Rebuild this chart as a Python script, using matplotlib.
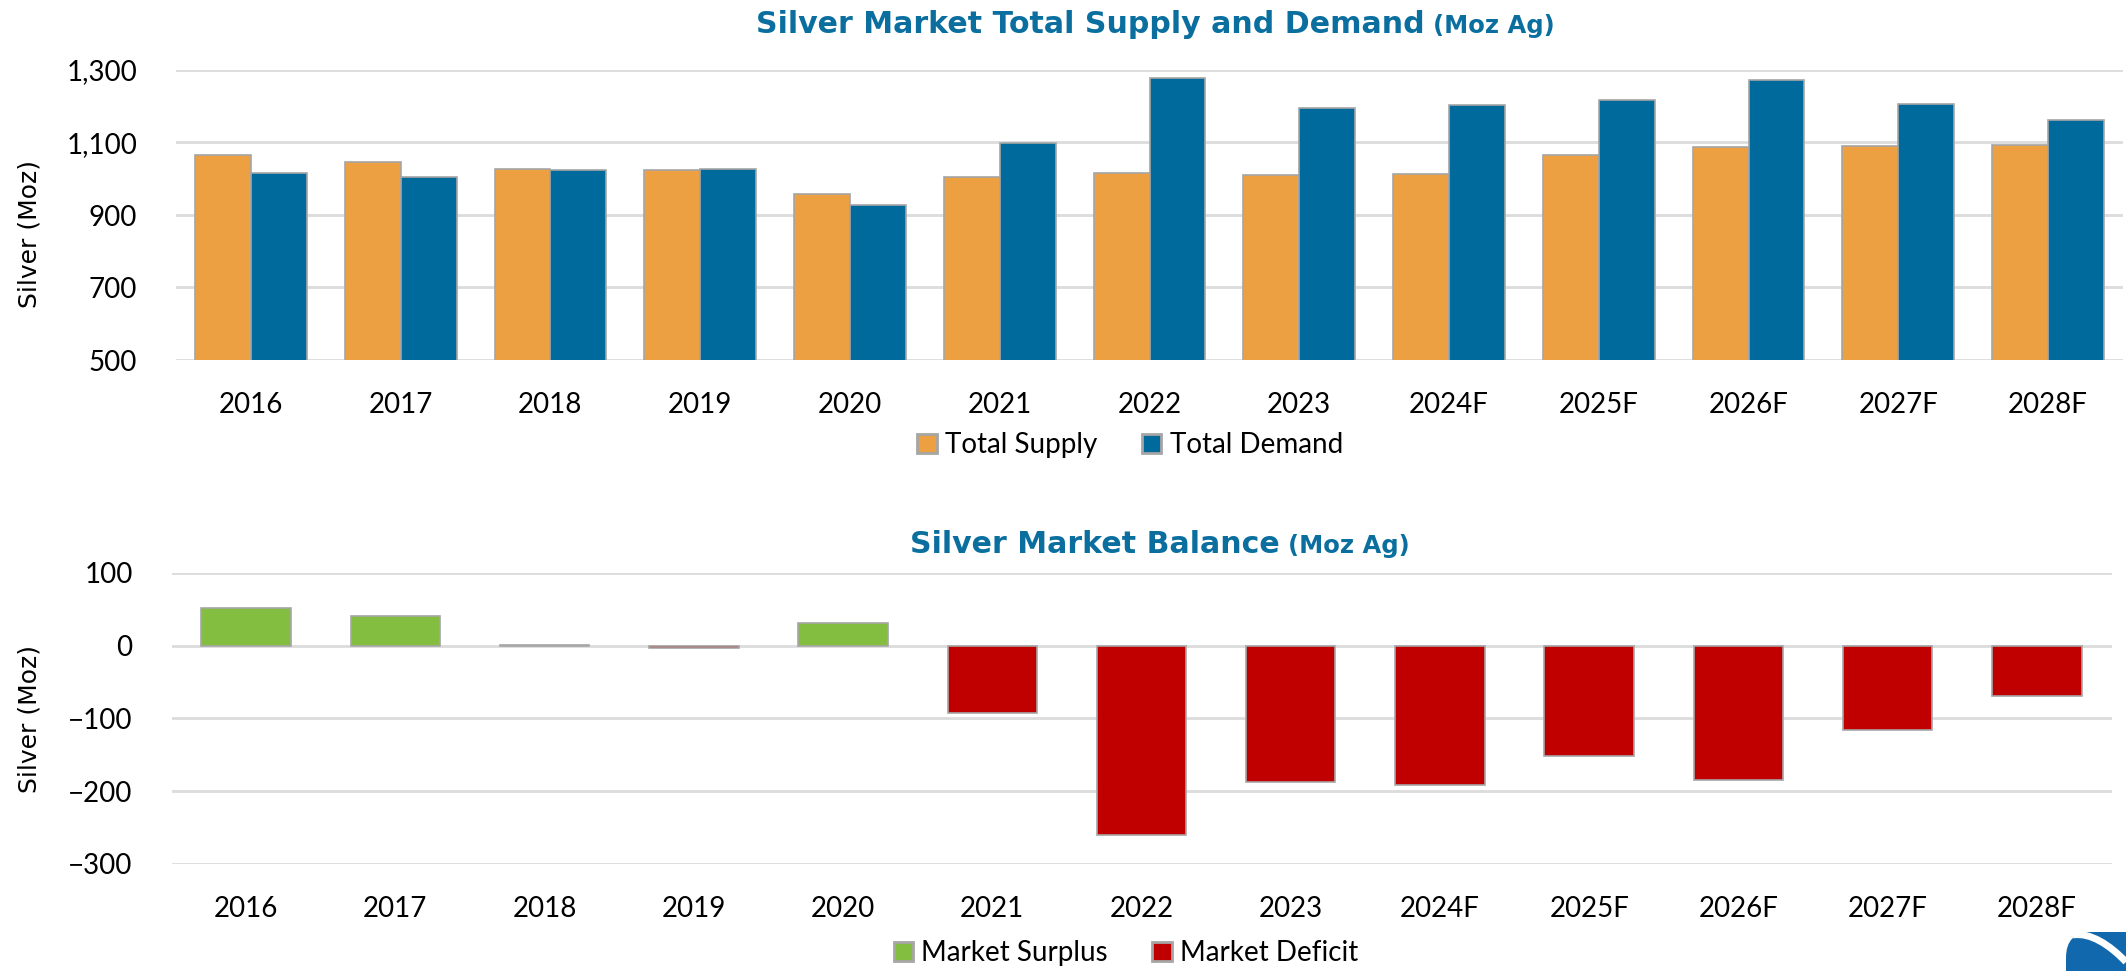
import numpy as np
import matplotlib
matplotlib.use("Agg")
import matplotlib.pyplot as plt
from matplotlib.patches import Patch, FancyBboxPatch
from matplotlib.path import Path
from matplotlib.patches import PathPatch

years = ["2016", "2017", "2018", "2019", "2020", "2021", "2022",
         "2023", "2024F", "2025F", "2026F", "2027F", "2028F"]
total_supply = [1065, 1046, 1026, 1024, 958, 1006, 1017, 1009, 1013, 1065, 1087, 1090, 1092]
total_demand = [1016, 1005, 1025, 1028, 927, 1098, 1279, 1195, 1203, 1218, 1272, 1205, 1161]
market_surplus = [51, 41, 1, np.nan, 31, np.nan, np.nan, np.nan, np.nan, np.nan, np.nan, np.nan, np.nan]
market_deficit = [np.nan, np.nan, np.nan, -4, np.nan, -93, -260, -187, -191, -152, -185, -116, -69]

ORANGE = "#EDA041"
BLUE = "#006A9C"
GREEN = "#84BE41"
RED = "#C00000"
EDGE = "#A6A6A6"
GRID = "#DCDCDC"
TITLE = "#0A6E9F"

W, H = 2126, 971
fig = plt.figure(figsize=(W / 100, H / 100), dpi=100)
tick_font = "Lato"


def style_axis(ax):
    for s in ax.spines.values():
        s.set_visible(False)
    ax.yaxis.grid(True, color=GRID, lw=2)
    ax.set_axisbelow(True)
    ax.tick_params(length=0, labelsize=20)
    ax.tick_params(axis="y", pad=28)
    ax.tick_params(axis="x", pad=23)
    for lab in ax.get_xticklabels() + ax.get_yticklabels():
        lab.set_fontfamily(tick_font)


x = np.arange(len(years))

# top chart: supply vs demand
ax1 = fig.add_axes([176 / W, 1 - 360 / H, 1947 / W, 290 / H])
bw = 0.373
ax1.bar(x - bw / 2, total_supply, bw, color=ORANGE, edgecolor=EDGE, lw=1.2, label="Total Supply")
ax1.bar(x + bw / 2, total_demand, bw, color=BLUE, edgecolor=EDGE, lw=1.2, label="Total Demand")
ax1.set_ylim(500, 1300)
ax1.set_xlim(-0.5, len(years) - 0.5)
ax1.set_yticks([500, 700, 900, 1100, 1300])
ax1.set_yticklabels(["500", "700", "900", "1,100", "1,300"])
ax1.set_xticks(x)
ax1.set_xticklabels(years)
style_axis(ax1)

# bottom chart: balance
ax2 = fig.add_axes([171.5 / W, 1 - 864 / H, 1940 / W, 291.3 / H])
ax2.bar(x, market_surplus, 0.6, color=GREEN, edgecolor=EDGE, lw=1.2, label="Market Surplus")
ax2.bar(x, market_deficit, 0.6, color=RED, edgecolor=EDGE, lw=1.2, label="Market Deficit")
ax2.set_ylim(-300, 100)
ax2.set_xlim(-0.5, len(years) - 0.5)
ax2.set_yticks([-300, -200, -100, 0, 100])
ax2.set_xticks(x)
ax2.set_xticklabels(years)
style_axis(ax2)

# titles
fig.text(1425 / W, 1 - 33 / H, "Silver Market Total Supply and Demand", ha="right", va="baseline",
         fontsize=21.6, fontweight="bold", color=TITLE, family="DejaVu Sans")
fig.text(1433 / W, 1 - 33 / H, "(Moz Ag)", ha="left", va="baseline",
         fontsize=17.5, fontweight="bold", color=TITLE, family="DejaVu Sans")
fig.text(1280 / W, 1 - 553 / H, "Silver Market Balance", ha="right", va="baseline",
         fontsize=21.6, fontweight="bold", color=TITLE, family="DejaVu Sans")
fig.text(1288 / W, 1 - 553 / H, "(Moz Ag)", ha="left", va="baseline",
         fontsize=17.5, fontweight="bold", color=TITLE, family="DejaVu Sans")

# y labels
fig.text(30 / W, 1 - 234 / H, "Silver (Moz)", rotation=90, ha="center", va="center",
         fontsize=18, family="DejaVu Sans")
fig.text(30 / W, 1 - 719 / H, "Silver (Moz)", rotation=90, ha="center", va="center",
         fontsize=18, family="DejaVu Sans")

# legends
leg_kw = dict(loc="center", ncol=2, frameon=False, handlelength=0.7, handleheight=0.7,
              handletextpad=0.3, columnspacing=1.6, prop={"family": tick_font, "size": 20})
h1 = [Patch(facecolor=ORANGE, edgecolor=EDGE, lw=2), Patch(facecolor=BLUE, edgecolor=EDGE, lw=2)]
fig.legend(h1, ["Total Supply", "Total Demand"], bbox_to_anchor=(1130 / W, 1 - 445 / H), **leg_kw)
h2 = [Patch(facecolor=GREEN, edgecolor=EDGE, lw=2), Patch(facecolor=RED, edgecolor=EDGE, lw=2)]
fig.legend(h2, ["Market Surplus", "Market Deficit"], bbox_to_anchor=(1126 / W, 1 - 953 / H), **leg_kw)

# corner logo
logo = FancyBboxPatch((2066 / W, -0.05), 0.1, 0.05 + (H - 932) / H,
                      boxstyle="round,pad=0,rounding_size=0.012", transform=fig.transFigure,
                      facecolor="#1268AC", edgecolor="none", mutation_aspect=W / H)
fig.patches.append(logo)
swoosh = Path([(2073 / W, 1 - 935 / H), (2090 / W, 1 - 932 / H), (2110 / W, 1 - 945 / H),
               (2126 / W, 1 - 962 / H)],
              [Path.MOVETO, Path.CURVE4, Path.CURVE4, Path.CURVE4])
fig.patches.append(PathPatch(swoosh, transform=fig.transFigure, facecolor="none",
                             edgecolor="white", lw=5))

fig.savefig("out.png", dpi=100)
